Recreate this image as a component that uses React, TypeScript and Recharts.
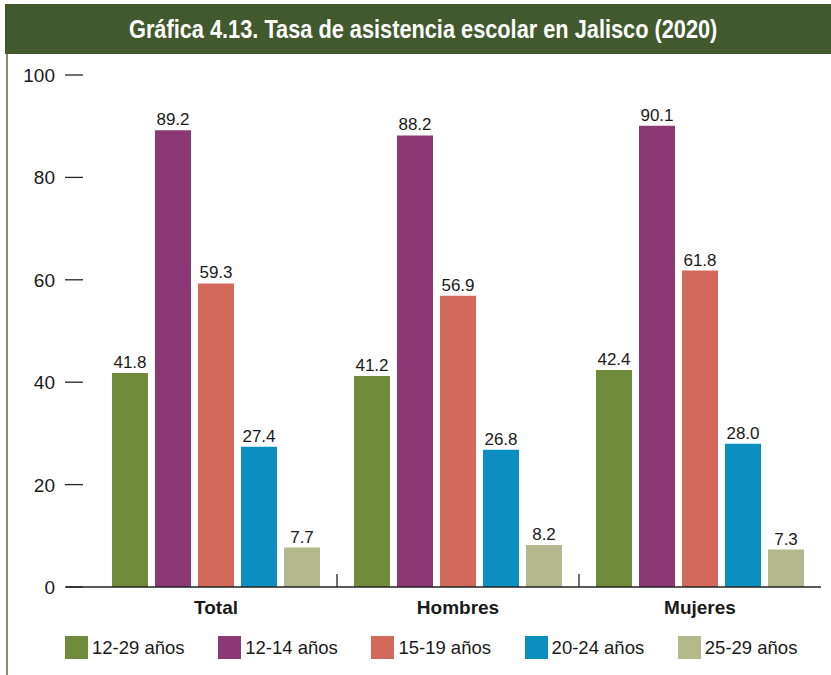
import { Bar, BarChart, LabelList, Legend, XAxis, YAxis } from 'recharts'

const categories = ['Total', 'Hombres', 'Mujeres']
const edad12a29 = [41.8, 41.2, 42.4]
const edad12a14 = [89.2, 88.2, 90.1]
const edad15a19 = [59.3, 56.9, 61.8]
const edad20a24 = [27.4, 26.8, 28.0]
const edad25a29 = [7.7, 8.2, 7.3]
const yTicks = [0, 20, 40, 60, 80, 100]

const series = [
    { key: 'a', name: '12-29 años', color: '#6f8a3a', values: edad12a29 },
    { key: 'b', name: '12-14 años', color: '#8b3875', values: edad12a14 },
    { key: 'c', name: '15-19 años', color: '#d2695a', values: edad15a19 },
    { key: 'd', name: '20-24 años', color: '#0a8fc0', values: edad20a24 },
    { key: 'e', name: '25-29 años', color: '#b3b98c', values: edad25a29 },
]

const data = categories.map((name, i) => {
    const row: Record<string, string | number> = { name }
    series.forEach((s) => {
        row[s.key] = s.values[i]
    })
    return row
})

const FONT = "'Liberation Sans', Arial, Helvetica, sans-serif"
const HALF_BAND = 121

function YTick(props: any) {
    const { x, y, payload } = props
    return (
        <g>
            <line x1={x - 1} x2={x + 17} y1={y} y2={y} stroke="#222" strokeWidth={1.3} />
            <text x={x - 11} y={y} dy={7} textAnchor="end" fontSize={19} fill="#1a1a1a" fontFamily={FONT}>
                {payload.value}
            </text>
        </g>
    )
}

function XTick(props: any) {
    const { x, y, payload, index } = props
    return (
        <g>
            {index < categories.length - 1 && (
                <line x1={x + HALF_BAND} x2={x + HALF_BAND} y1={y - 13} y2={y} stroke="#222" strokeWidth={1.3} />
            )}
            <text x={x} y={y} dy={27} textAnchor="middle" fontSize={19} fontWeight="bold" fill="#1a1a1a" fontFamily={FONT}>
                {payload.value}
            </text>
        </g>
    )
}

function LegendBox() {
    return (
        <div style={{ height: 48, display: 'flex', paddingLeft: 65, paddingTop: 9, boxSizing: 'border-box' }}>
            {series.map((s) => (
                <div key={s.key} style={{ width: 155, display: 'flex', alignItems: 'center', height: 23 }}>
                    <span style={{ width: 23, height: 23, background: s.color, marginRight: 4, display: 'inline-block' }} />
                    <span style={{ fontSize: 18.5, color: '#1a1a1a', fontFamily: FONT }}>{s.name}</span>
                </div>
            ))}
        </div>
    )
}

export default function App() {
    return (
        <div style={{ position: 'absolute', left: 0, top: 0, width: 831, height: 675, background: '#fff', overflow: 'hidden' }}>
            <div style={{ position: 'absolute', left: 6, top: 4, width: 2, height: 671, background: '#7d9070' }} />
            <div
                style={{
                    position: 'absolute',
                    left: 5,
                    top: 4,
                    width: 826,
                    height: 50,
                    background: '#41592d',
                    color: '#fff',
                    display: 'flex',
                    alignItems: 'center',
                    justifyContent: 'center',
                    fontFamily: FONT,
                    fontWeight: 'bold',
                    fontSize: 25,
                    paddingLeft: 10,
                    boxSizing: 'border-box',
                }}
            >
                <span style={{ display: 'inline-block', transform: 'scaleX(0.87)', whiteSpace: 'nowrap' }}>
                    Gráfica 4.13. Tasa de asistencia escolar en Jalisco (2020)
                </span>
            </div>
            <BarChart
                width={831}
                height={675}
                data={data}
                margin={{ top: 75, right: 10, left: 0, bottom: 0 }}
                barSize={36}
                barGap={7}
            >
                <XAxis
                    dataKey="name"
                    height={40}
                    padding={{ left: 29, right: 0 }}
                    stroke="#222"
                    strokeWidth={1.5}
                    tickLine={false}
                    tickSize={0}
                    tickMargin={0}
                    tick={<XTick />}
                    interval={0}
                />
                <YAxis
                    width={66}
                    domain={[0, 100]}
                    ticks={yTicks}
                    axisLine={false}
                    tickLine={false}
                    tickSize={0}
                    tickMargin={0}
                    tick={<YTick />}
                />
                <Legend verticalAlign="bottom" wrapperStyle={{ left: 0, width: 831 }} content={<LegendBox />} />
                {series.map((s) => (
                    <Bar key={s.key} dataKey={s.key} name={s.name} fill={s.color} isAnimationActive={false}>
                        <LabelList
                            dataKey={s.key}
                            position="top"
                            offset={5}
                            fontSize={17}
                            fill="#1a1a1a"
                            fontFamily={FONT}
                            formatter={(v: any) => Number(v).toFixed(1)}
                        />
                    </Bar>
                ))}
            </BarChart>
        </div>
    )
}
